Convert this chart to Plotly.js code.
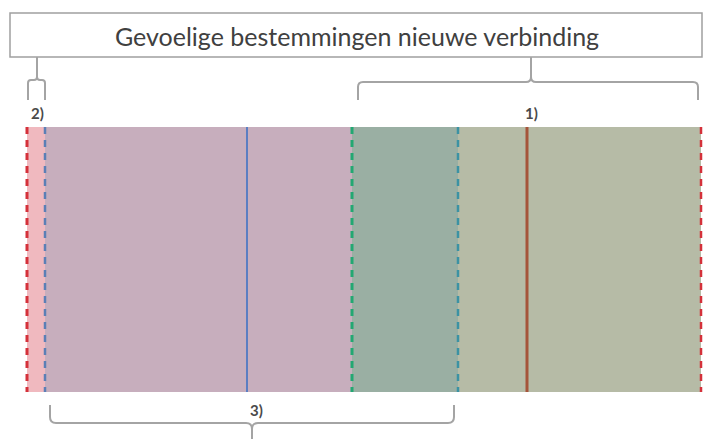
<!DOCTYPE html>
<html>
<head>
<meta charset="utf-8">
<script src="https://cdn.plot.ly/plotly-3.0.1.min.js"></script>
<style>html,body{margin:0;padding:0;background:#fff}#chart{width:703px;height:439px}</style>
</head>
<body>
<div id="chart"></div>
<script>
// ---- data (positions along the route, in layout units) ----
const zoneStart = [27, 45, 352, 458];
const zoneEnd = [45, 352, 458, 701];
const markerX = [27, 45, 247, 352, 458, 527, 701];
const bracketFrom = [358, 28, 50];
const bracketTo = [698, 45, 454];
const bracketTip = [531, 37, 252];
const bracketLabels = ['1)', '2)', '3)'];
const titleText = 'Gevoelige bestemmingen nieuwe verbinding';

// ---- styles ----
const zoneColors = ['#f0b9bf', '#c7aebd', '#9aafa3', '#b6bba6'];
const markerColors = ['#d4313a', '#5b7fb6', '#5b7ec2', '#22a872', '#3b92a4', '#a5543a', '#d4313a'];
const markerDash = ['7px,6px', '7px,6px', 'solid', '7px,6px', '7px,6px', 'solid', '7px,6px'];
const markerWidth = [3, 2.5, 2, 3, 2.5, 3, 2.5];
const bandTop = 127, bandBottom = 392;
const boxTop = 13, boxBottom = 57;

const shapes = [];
zoneStart.forEach((s, i) => {
  shapes.push({type: 'rect', xref: 'x', yref: 'y', x0: s, x1: zoneEnd[i], y0: bandTop, y1: bandBottom,
    fillcolor: zoneColors[i], line: {width: 0}, layer: 'below'});
});
markerX.forEach((x, i) => {
  shapes.push({type: 'line', xref: 'x', yref: 'y', x0: x, x1: x, y0: bandTop, y1: bandBottom,
    line: {color: markerColors[i], width: markerWidth[i], dash: markerDash[i]}});
});
// title box
shapes.push({type: 'rect', xref: 'x', yref: 'y', x0: 10, x1: 702, y0: boxTop, y1: boxBottom,
  line: {color: '#a0a0a0', width: 1.5}, fillcolor: 'rgba(0,0,0,0)'});

const bc = {color: '#a4a4a4', width: 2};
function bracket(a, b, tip, yh, yLeg, yNotch, r) {
  const s = yLeg > yh ? 1 : -1; // direction of legs
  return `M ${a} ${yLeg} L ${a} ${yh + s * r} Q ${a} ${yh} ${a + r} ${yh} L ${tip - r} ${yh} Q ${tip} ${yh} ${tip} ${yh - s * r} L ${tip} ${yNotch} ` +
    `M ${tip} ${yh - s * r} Q ${tip} ${yh} ${tip + r} ${yh} L ${b - r} ${yh} Q ${b} ${yh} ${b} ${yh + s * r} L ${b} ${yLeg}`;
}
shapes.push({type: 'path', xref: 'x', yref: 'y', path: bracket(bracketFrom[0], bracketTo[0], bracketTip[0], 82, 100, boxBottom, 5), line: bc});
shapes.push({type: 'path', xref: 'x', yref: 'y', path: bracket(bracketFrom[1], bracketTo[1], bracketTip[1], 80, 100, boxBottom, 3), line: bc});
shapes.push({type: 'path', xref: 'x', yref: 'y', path: bracket(bracketFrom[2], bracketTo[2], bracketTip[2], 423, 405, 445, 6), line: bc});

const labelFont = {family: 'Lato, sans-serif', size: 15, color: '#4a4a4a', weight: 'bold'};
const annotations = [
  {x: 357, y: 36, xref: 'x', yref: 'y', text: titleText, showarrow: false,
    font: {family: 'Lato, "Open Sans", sans-serif', size: 25, color: '#404040'}},
  {x: bracketTip[0], y: 113, xref: 'x', yref: 'y', text: bracketLabels[0], showarrow: false, font: labelFont},
  {x: bracketTip[1], y: 113, xref: 'x', yref: 'y', text: bracketLabels[1], showarrow: false, font: labelFont},
  {x: bracketTip[2] + 4, y: 410, xref: 'x', yref: 'y', text: bracketLabels[2], showarrow: false, font: labelFont}
];

Plotly.newPlot('chart', [{x: [0, 703], y: [0, 439], mode: 'markers', marker: {opacity: 0}, hoverinfo: 'skip', showlegend: false}], {
  width: 703, height: 439,
  margin: {l: 0, r: 0, t: 0, b: 0},
  paper_bgcolor: '#fff', plot_bgcolor: '#fff',
  xaxis: {range: [0, 703], visible: false, fixedrange: true},
  yaxis: {range: [439, 0], visible: false, fixedrange: true},
  shapes: shapes,
  annotations: annotations,
  showlegend: false
}, {staticPlot: true});
</script>
</body>
</html>
